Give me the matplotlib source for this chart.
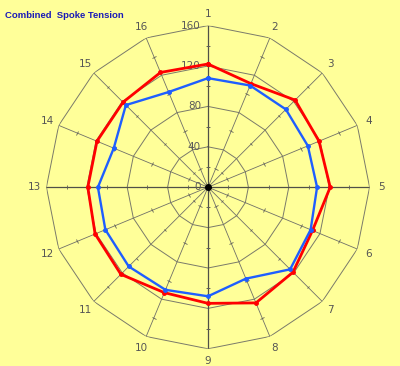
#!/usr/bin/env python3

import numpy as np
import matplotlib
matplotlib.use("Agg")
import matplotlib.pyplot as plt
from matplotlib.markers import MarkerStyle
from matplotlib.transforms import Affine2D

spokes = [str(i) for i in range(1, 17)]
red_tension = [122, 111, 122, 119, 121, 112, 119, 124, 115, 113, 122, 121, 119, 119, 119, 123]
blue_tension = [108, 109, 109, 107, 108, 110, 115, 98, 108, 110, 111, 110, 109, 101, 115, 102]
rings = [40, 80, 120, 160]
ring_labels = ["0", "40", "80", "120", "160"]
minor_ticks = [20, 60, 100, 140]

BG = "#FFFF99"
GRID = "#7a7a6a"

n = len(spokes)
theta = np.arange(n) * 2 * np.pi / n
theta_closed = np.append(theta, theta[0])

fig = plt.figure(figsize=(4.0, 3.66), dpi=100, facecolor=BG)
ax = fig.add_axes([0.116, 0.047, 0.808, 0.883], projection="polar", facecolor=BG)
ax.set_theta_zero_location("N")
ax.set_theta_direction(-1)
ax.set_ylim(0, 160)
ax.grid(False)
ax.spines["polar"].set_visible(False)
ax.set_xticks([])
ax.set_yticks([])
ax.patch.set_alpha(0)

# polygon rings
for r in rings:
    ax.plot(theta_closed, [r] * (n + 1), color=GRID, lw=0.7, zorder=1)

# spokes with small cross ticks
for i, t in enumerate(theta):
    main = i % 4 == 0
    ax.plot([t, t], [0, 160], color="#505048" if main else "#707068",
            lw=0.9 if main else 0.6, zorder=1)
    ang = np.degrees(t)
    m = MarkerStyle("_", transform=Affine2D().rotate_deg(-ang))
    ax.plot([t] * len(minor_ticks), minor_ticks, ls="none", marker=m,
            ms=2.6, mew=0.6, color="#606058", zorder=1)
    ax.text(t, 172, spokes[i], ha="center", va="center", fontsize=7.5,
            color="#555555")

# radial value labels along spoke 1
for r, lab in zip([0] + rings, ring_labels):
    ax.annotate(lab, xy=(0, r), xytext=(-5, 0), textcoords="offset points",
                ha="right", va="center", fontsize=7.5, color="#5a5a5a",
                annotation_clip=False)

ax.plot(theta_closed, red_tension + red_tension[:1], color="#FF0000", lw=2.0,
        marker="o", ms=2.5, zorder=3)
ax.plot(theta_closed, blue_tension + blue_tension[:1], color="#1E5EFF", lw=1.7,
        marker="o", ms=2.5, zorder=3)
ax.plot([0], [0], marker="o", ms=4, color="black", zorder=4)

fig.text(0.0125, 0.957, "Combined  Spoke Tension", color="#1a1ab8",
         fontsize=6.8, fontweight="bold", family="Liberation Sans",
         ha="left", va="center")

fig.savefig("out.png", dpi=100, facecolor=BG)
